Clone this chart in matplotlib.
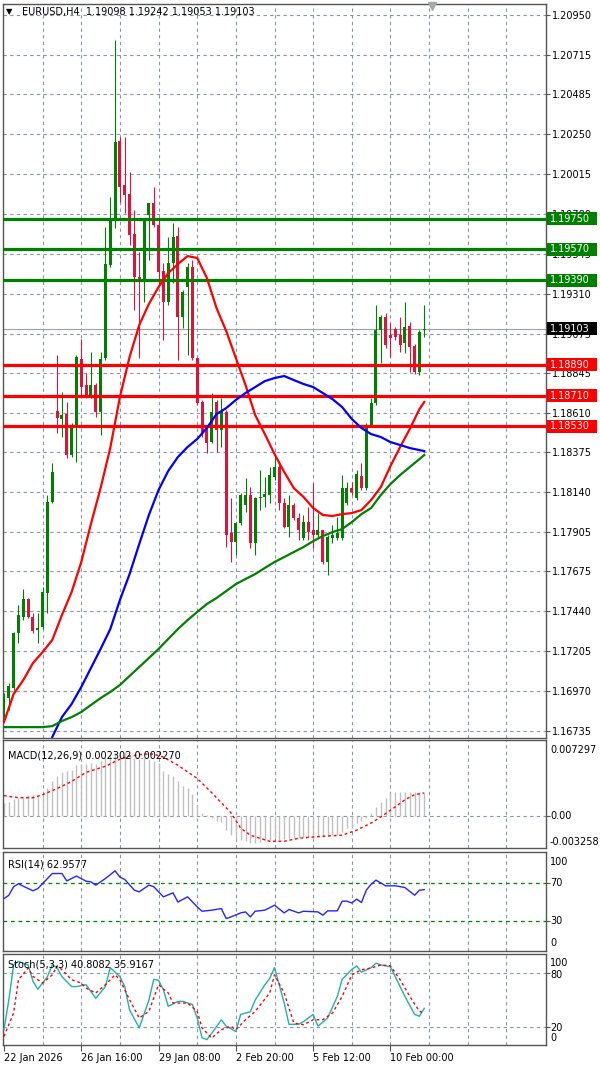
import matplotlib
matplotlib.use("Agg")
import matplotlib.pyplot as plt
from matplotlib.patches import Rectangle
import numpy as np

plt.rcParams['font.family'] = ['DejaVu Sans']

W, H = 600, 1067

# ---- EURUSD H4 candles ----
opens = [1.16856, 1.16927, 1.16986, 1.17313, 1.17407, 1.17512, 1.17407, 1.17331, 1.17348, 1.17547,
         1.18082, 1.18617, 1.18570, 1.18600, 1.18358, 1.18535, 1.18923, 1.18770, 1.18700, 1.18770,
         1.18611, 1.18929, 1.19477, 1.19743, 1.20208, 1.19948, 1.19895, 1.19660, 1.19407, 1.19377,
         1.19772, 1.19843, 1.19713, 1.19442, 1.19259, 1.19489, 1.19648, 1.19171, 1.19348, 1.19466,
         1.18929, 1.18670, 1.18523, 1.18435, 1.18670, 1.18505, 1.18611, 1.17899, 1.17846, 1.17958,
         1.18064, 1.18123, 1.17841, 1.18106, 1.18111, 1.18123, 1.18228, 1.18288, 1.18076, 1.17935,
         1.18064, 1.17987, 1.17870, 1.17964, 1.17917, 1.17888, 1.17917, 1.17729, 1.17870, 1.17870,
         1.17870, 1.18076, 1.18164, 1.18106, 1.18234, 1.18164, 1.18535, 1.18665, 1.19095, 1.19171,
         1.19065, 1.19100, 1.19065, 1.19018, 1.19118, 1.19000, 1.18847, 1.19098]
highs = [1.16956, 1.17015, 1.17319, 1.17477, 1.17570, 1.17518, 1.17430, 1.17430, 1.17581, 1.18123,
         1.18311, 1.18947, 1.18729, 1.18670, 1.18547, 1.18947, 1.19041, 1.18841, 1.18965, 1.18782,
         1.18965, 1.19701, 1.19878, 1.20803, 1.20231, 1.20231, 1.20025, 1.19801, 1.19554, 1.19743,
         1.19843, 1.19937, 1.19743, 1.19489, 1.19642, 1.19725, 1.19701, 1.19330, 1.19489, 1.19507,
         1.18929, 1.18682, 1.18535, 1.18723, 1.18682, 1.18694, 1.18623, 1.18106, 1.17964, 1.18135,
         1.18223, 1.18170, 1.18111, 1.18270, 1.18228, 1.18288, 1.18347, 1.18311, 1.18106, 1.18123,
         1.18076, 1.18017, 1.18005, 1.18052, 1.18193, 1.18017, 1.17917, 1.17888, 1.17946, 1.17993,
         1.18240, 1.18199, 1.18199, 1.18270, 1.18311, 1.18547, 1.18694, 1.19242, 1.19182, 1.19194,
         1.19135, 1.19112, 1.19171, 1.19259, 1.19141, 1.19012, 1.19095, 1.19242]
lows = [1.16815, 1.16856, 1.16974, 1.17254, 1.17389, 1.17401, 1.17313, 1.17254, 1.17336, 1.17430,
        1.18076, 1.18488, 1.18464, 1.18341, 1.18347, 1.18317, 1.18700, 1.18694, 1.18694, 1.18582,
        1.18476, 1.18918, 1.19466, 1.19695, 1.19848, 1.19784, 1.19595, 1.19212, 1.18929, 1.19259,
        1.19507, 1.19701, 1.19348, 1.19035, 1.19242, 1.19371, 1.18918, 1.19106, 1.18947, 1.18918,
        1.18653, 1.18464, 1.18370, 1.18429, 1.18376, 1.18405, 1.17817, 1.17729, 1.17770, 1.17946,
        1.18023, 1.17811, 1.17770, 1.18034, 1.18052, 1.18076, 1.18211, 1.18034, 1.17929, 1.17876,
        1.17975, 1.17858, 1.17858, 1.17858, 1.17811, 1.17876, 1.17718, 1.17653, 1.17841, 1.17858,
        1.17858, 1.18064, 1.18123, 1.18094, 1.18152, 1.18152, 1.18523, 1.18653, 1.18900, 1.18988,
        1.18935, 1.19035, 1.18965, 1.18959, 1.18847, 1.18835, 1.18829, 1.19053]
closes = [1.16933, 1.17003, 1.17313, 1.17418, 1.17512, 1.17407, 1.17325, 1.17342, 1.17553, 1.18082,
          1.18258, 1.18576, 1.18594, 1.18358, 1.18535, 1.18935, 1.18758, 1.18700, 1.18770, 1.18611,
          1.18923, 1.19483, 1.19743, 1.20202, 1.19937, 1.19889, 1.19654, 1.19407, 1.19377, 1.19737,
          1.19843, 1.19713, 1.19436, 1.19259, 1.19489, 1.19642, 1.19171, 1.19318, 1.19466, 1.18929,
          1.18665, 1.18488, 1.18429, 1.18611, 1.18505, 1.18617, 1.17888, 1.17846, 1.17958, 1.18123,
          1.18123, 1.17841, 1.18106, 1.18111, 1.18129, 1.18240, 1.18288, 1.18076, 1.17935, 1.18064,
          1.17987, 1.17917, 1.17964, 1.17905, 1.17888, 1.17917, 1.17729, 1.17876, 1.17888, 1.17899,
          1.18164, 1.18164, 1.18140, 1.18246, 1.18164, 1.18535, 1.18665, 1.19095, 1.19171, 1.19006,
          1.19047, 1.19053, 1.19006, 1.19112, 1.18994, 1.18847, 1.19083, 1.19103]

# moving averages, sampled every 2 bars
ma_bars = list(range(0, 88, 2)) + [87]
ma_red = [1.16788, 1.16953, 1.17035, 1.17135, 1.17200, 1.17271, 1.17418, 1.17553, 1.17730, 1.17954,
          1.18165, 1.18401, 1.18701, 1.18937, 1.19125, 1.19249, 1.19349, 1.19431, 1.19484, 1.19531,
          1.19520, 1.19402, 1.19225, 1.19090, 1.18931, 1.18772, 1.18595, 1.18483, 1.18366, 1.18260,
          1.18165, 1.18113, 1.18048, 1.18007, 1.18001, 1.18012, 1.18018, 1.18036, 1.18095, 1.18171,
          1.18295, 1.18407, 1.18513, 1.18630, 1.18672]
blue_bars = list(range(10, 88, 2)) + [87]
ma_blue = [1.16700, 1.16817, 1.16894, 1.16994, 1.17106, 1.17218, 1.17335, 1.17506, 1.17659, 1.17836,
           1.18007, 1.18154, 1.18266, 1.18348, 1.18407, 1.18454, 1.18519, 1.18601, 1.18636, 1.18684,
           1.18725, 1.18760, 1.18795, 1.18813, 1.18825, 1.18801, 1.18778, 1.18760, 1.18725, 1.18689,
           1.18642, 1.18572, 1.18519, 1.18483, 1.18466, 1.18436, 1.18419, 1.18401, 1.18389, 1.18383]
ma_green = [1.16758, 1.16758, 1.16758, 1.16758, 1.16758, 1.16764, 1.16794, 1.16817, 1.16847, 1.16888,
            1.16929, 1.16965, 1.17006, 1.17059, 1.17112, 1.17165, 1.17218, 1.17277, 1.17335, 1.17388,
            1.17436, 1.17483, 1.17518, 1.17559, 1.17600, 1.17630, 1.17659, 1.17695, 1.17730, 1.17759,
            1.17789, 1.17818, 1.17853, 1.17883, 1.17906, 1.17924, 1.17965, 1.18012, 1.18048, 1.18124,
            1.18189, 1.18242, 1.18289, 1.18336, 1.18360]

resist_levels = [1.19750, 1.19570, 1.19390]
support_levels = [1.18890, 1.18710, 1.18530]
bid = 1.19103
price_ticks = [1.20950, 1.20715, 1.20485, 1.20250, 1.20015, 1.19780, 1.19545, 1.19310, 1.19075,
               1.18845, 1.18610, 1.18375, 1.18140, 1.17905, 1.17675, 1.17440, 1.17205, 1.16970, 1.16735]

# MACD(12,26,9)
macd_hist = [0.00128, 0.00141, 0.00167, 0.00177, 0.0019, 0.0021, 0.0021, 0.0020, 0.0023, 0.0028,
             0.0034, 0.0039, 0.0043, 0.0044, 0.0045, 0.0050, 0.0051, 0.0051, 0.0052, 0.0051,
             0.0054, 0.0057, 0.0059, 0.0062, 0.0063, 0.0063, 0.0060, 0.0057, 0.0056, 0.0057,
             0.0056, 0.0054, 0.0052, 0.0044, 0.0041, 0.0039, 0.0034, 0.0030, 0.0028, 0.0022,
             0.0011, 0.0003, 0.00005, -0.0002, -0.0005, -0.0006, -0.0014, -0.0019, -0.0023, -0.0024,
             -0.0025, -0.0027, -0.0027, -0.0026, -0.0025, -0.0024, -0.0022, -0.0024, -0.0023, -0.0022,
             -0.0022, -0.0022, -0.0021, -0.0021, -0.0021, -0.0020, -0.0021, -0.0020, -0.0019, -0.0019,
             -0.0016, -0.0012, -0.0011, -0.0007, -0.0005, -0.0002, 0.0003, 0.0009, 0.0014, 0.0018,
             0.0023, 0.0024, 0.0024, 0.0024, 0.0024, 0.0024, 0.0024, 0.002302]
sig_bars = [0, 3, 6, 8, 11, 14, 17, 21, 24, 26, 29, 31, 33, 36, 40, 43, 47, 49, 51, 55, 58, 61,
            66, 70, 73, 76, 78, 81, 83, 85, 87]
macd_sig = [0.0020, 0.0018, 0.0018, 0.0021, 0.0027, 0.0034, 0.0043, 0.0049, 0.0056, 0.0059, 0.0061,
            0.0061, 0.0058, 0.0050, 0.0037, 0.0023, 0.0003, -0.0012, -0.0019, -0.0025, -0.0025,
            -0.0022, -0.0020, -0.0019, -0.0014, -0.0007, -0.0001, 0.0009, 0.0016, 0.0021, 0.00227]

# RSI(14)
rsi_bars = [0, 1, 2, 3, 4, 6, 7, 9, 10, 12, 13, 15, 17, 18, 19, 21, 23, 24, 25, 27, 28, 30, 31, 33,
            35, 36, 38, 40, 41, 43, 45, 46, 47, 49, 50, 51, 52, 54, 56, 58, 59, 61, 62, 65, 66, 67,
            69, 70, 71, 72, 73, 74, 75, 76, 77, 79, 81, 83, 85, 86, 87]
rsi = [53.6, 57, 66, 69, 66.5, 61.7, 64, 74.5, 79.7, 79.7, 72, 77, 71.7, 71, 67.6, 74.5, 82.5, 76,
       73.5, 62.3, 60.6, 67.6, 66, 55.4, 59.6, 50, 55.4, 45, 40.4, 41.5, 43.2, 32.8, 34.5, 38.7, 39.7,
       34.5, 40.4, 41.5, 46.7, 38.7, 42.2, 38.7, 40.4, 39.7, 36.3, 40.8, 40.8, 50.9, 50.9, 49, 53,
       49.5, 62.3, 68.6, 72.8, 66.9, 66.9, 65.1, 57.1, 62.3, 62.96]

# Stochastic(5,3,3)
k_bars = [0, 1, 2, 3, 5, 6, 7, 9, 10, 11, 12, 14, 15, 17, 19, 21, 22, 24, 25, 26, 28, 30, 31, 32, 33,
          34, 36, 37, 39, 40, 41, 42, 43, 45, 46, 48, 49, 51, 52, 54, 55, 56, 58, 59, 61, 62, 64, 65,
          67, 69, 70, 72, 73, 74, 76, 77, 78, 80, 81, 83, 85, 86, 87]
stoch_k = [17, 50, 89, 93, 89, 71, 62, 76, 89, 86, 76, 65, 65, 67, 52, 65, 86, 76, 65, 39, 19, 50,
           73, 72, 61.5, 43, 48.5, 48.5, 45, 30, 8, 6, 13, 28, 21, 15, 34, 37, 50, 67, 74, 86, 47, 23,
           23, 26, 34, 21, 30, 54, 73, 84, 88, 81, 86, 91, 89, 87, 76, 54, 34, 32, 40.8]
d_bars = [0, 2, 3, 5, 6, 8, 10, 11, 12, 14, 16, 17, 19, 21, 23, 24, 26, 28, 30, 32, 34, 35, 38, 40,
          41, 43, 45, 47, 48, 50, 52, 55, 56, 58, 60, 62, 64, 66, 68, 70, 72, 74, 76, 78, 80, 82,
          84, 86, 87]
stoch_d = [9.6, 35.6, 72.6, 85.6, 76.3, 68.9, 78, 88, 83.7, 72.6, 68.9, 63.3, 57.8, 67, 78, 72.6,
           50.4, 30, 37.4, 67, 57.8, 46.7, 46.7, 37.4, 19, 7.8, 17, 20.7, 17, 28.1, 37.4, 57.8, 78,
           57.8, 24.4, 22.6, 28.1, 28.1, 35.6, 54, 78, 83.7, 85.6, 89, 88, 72.6, 54, 37.4, 35.9]

date_ticks = [0, 16, 32, 48, 64, 80]
date_labels = ['22 Jan 2026', '26 Jan 16:00', '29 Jan 08:00', '2 Feb 20:00', '5 Feb 12:00', '10 Feb 00:00']

# ---- layout ----
GRID = '#8896a4'
BULL = '#008000'
BEAR = '#dc143c'
XLIM = (-0.2, 112.2)


def px_axes(l, t, r, b):
    return [l / W, 1 - b / H, (r - l) / W, (b - t) / H]


def fy(py):
    return 1 - py / H


fig = plt.figure(figsize=(W / 100, H / 100), dpi=100)
ax = fig.add_axes(px_axes(3, 4, 546, 738))
ax_macd = fig.add_axes(px_axes(3, 740, 546, 848))
ax_rsi = fig.add_axes(px_axes(3, 852, 546, 951))
ax_sto = fig.add_axes(px_axes(3, 954, 546, 1045))

for a in (ax, ax_macd, ax_rsi, ax_sto):
    a.set_xlim(*XLIM)
    for sp in a.spines.values():
        sp.set_color('#555555')
        sp.set_linewidth(1.0)
    a.set_xticks([])
    a.yaxis.tick_right()
    a.tick_params(axis='y', length=3, width=0.8, color='#555555', labelsize=7, pad=1.5)
    for gx in range(8, 112, 8):
        a.axvline(gx, color=GRID, lw=0.8, ls=(0, (3, 3)), zorder=1)

# ---- main price panel ----
ax.set_ylim(1.16694, 1.21015)
ax.set_yticks(price_ticks)
ax.set_yticklabels([f'{v:.5f}' for v in price_ticks])
for lv in price_ticks:
    ax.axhline(lv, color=GRID, lw=0.8, ls=(0, (3, 3)), zorder=1)

x = np.arange(len(opens))
o = np.array(opens)
c = np.array(closes)
up = c >= o
cols = [BULL if u else BEAR for u in up]
ax.vlines(x, lows, highs, colors=cols, lw=0.8, zorder=3)
body_low = np.minimum(o, c)
body_h = np.maximum(np.abs(c - o), 0.00006)
ax.bar(x, body_h, bottom=body_low, width=0.62, color=cols, lw=0, zorder=3)

ax.axhline(bid, color='#a0a0a0', lw=0.8, zorder=2)
ax.plot(ma_bars, ma_red, color='#ff0000', lw=1.6, zorder=5)
ax.plot(blue_bars, ma_blue, color='#0000ff', lw=1.6, zorder=5)
ax.plot(ma_bars, ma_green, color='#008000', lw=1.6, zorder=5)

for lv in resist_levels:
    ax.axhline(lv, color='#008000', lw=2.3, zorder=4)
for lv in support_levels:
    ax.axhline(lv, color='#ff0000', lw=2.3, zorder=4)

ytr = ax.get_yaxis_transform()
box_h = 13 * (1.21015 - 1.16694) / 734


def price_box(val, fc):
    ax.add_patch(Rectangle((1.0018, val - box_h / 2), 0.092, box_h, transform=ytr,
                           facecolor=fc, edgecolor='none', clip_on=False, zorder=10))
    ax.text(1.0065, val, f'{val:.5f}', transform=ytr, color='white', fontsize=7,
            va='center', ha='left', clip_on=False, zorder=11)


for lv in resist_levels:
    price_box(lv, '#008000')
price_box(bid, '#000000')
for lv in support_levels:
    price_box(lv, '#ff0000')

ax.plot([0.79], [0.997], marker='v', ms=6, color='#a8a8a8', transform=ax.transAxes,
        clip_on=False, zorder=12)
ax.text(0.006, 0.9895, '\u25bc', transform=ax.transAxes, fontsize=6, va='center', ha='left', zorder=12)
ax.text(0.035, 0.9895, 'EURUSD,H4  1.19098 1.19242 1.19053 1.19103', transform=ax.transAxes,
        fontsize=7, va='center', ha='left', zorder=12)

# ---- MACD panel ----
ax_macd.set_ylim(-0.00316, 0.00749)
ax_macd.set_yticks([0.0])
ax_macd.set_yticklabels([])
ax_macd.axhline(0, color=GRID, lw=0.8, ls=(0, (3, 3)), zorder=1)
ax_macd.vlines(x, 0, macd_hist, colors='#c0c0c0', lw=1.0, zorder=2)
ax_macd.plot(sig_bars, macd_sig, color='#ff0000', lw=1.0, ls=(0, (2, 2)), zorder=3)
ax_macd.text(0.01, 0.86, 'MACD(12,26,9) 0.002302 0.002270', transform=ax_macd.transAxes,
             fontsize=7, va='center', ha='left')
fig.text(550 / W, fy(750), '0.007297', fontsize=7, va='center', ha='left')
fig.text(550 / W, fy(816), '0.00', fontsize=7, va='center', ha='left')
fig.text(550 / W, fy(842), '-0.003258', fontsize=7, va='center', ha='left')

# ---- RSI panel ----
ax_rsi.set_ylim(-1.0, 102.1)
ax_rsi.set_yticks([70, 30])
ax_rsi.set_yticklabels([])
for lv in (70, 30):
    ax_rsi.axhline(lv, color='#008000', lw=0.9, ls=(0, (3, 3)), zorder=1)
ax_rsi.plot(rsi_bars, rsi, color='#2424ff', lw=1.0, zorder=3)
ax_rsi.text(0.01, 0.87, 'RSI(14) 62.9577', transform=ax_rsi.transAxes, fontsize=7,
            va='center', ha='left')
for lab, py in (('100', 862), ('70', 883), ('30', 921), ('0', 943)):
    fig.text(550 / W, fy(py), lab, fontsize=7, va='center', ha='left')

# ---- Stochastic panel ----
ax_sto.set_ylim(0, 101.2)
ax_sto.set_yticks([80, 20])
ax_sto.set_yticklabels([])
for lv in (80, 20):
    ax_sto.axhline(lv, color=GRID, lw=0.8, ls=(0, (3, 3)), zorder=1)
ax_sto.plot(k_bars, stoch_k, color='#20b2aa', lw=1.0, zorder=3)
ax_sto.plot(d_bars, stoch_d, color='#ff0000', lw=1.0, ls=(0, (2, 2)), zorder=3)
ax_sto.text(0.01, 0.89, 'Stoch(5,3,3) 40.8082 35.9167', transform=ax_sto.transAxes, fontsize=7,
            va='center', ha='left')
for lab, py in (('100', 963), ('80', 975), ('20', 1028), ('0', 1038)):
    fig.text(550 / W, fy(py), lab, fontsize=7, va='center', ha='left')

ax_sto.set_xticks(date_ticks)
ax_sto.set_xticklabels(date_labels, ha='left')
ax_sto.tick_params(axis='x', length=4, width=0.8, color='#555555', labelsize=7, pad=2)

fig.savefig('out.png', dpi=100, facecolor='white')
